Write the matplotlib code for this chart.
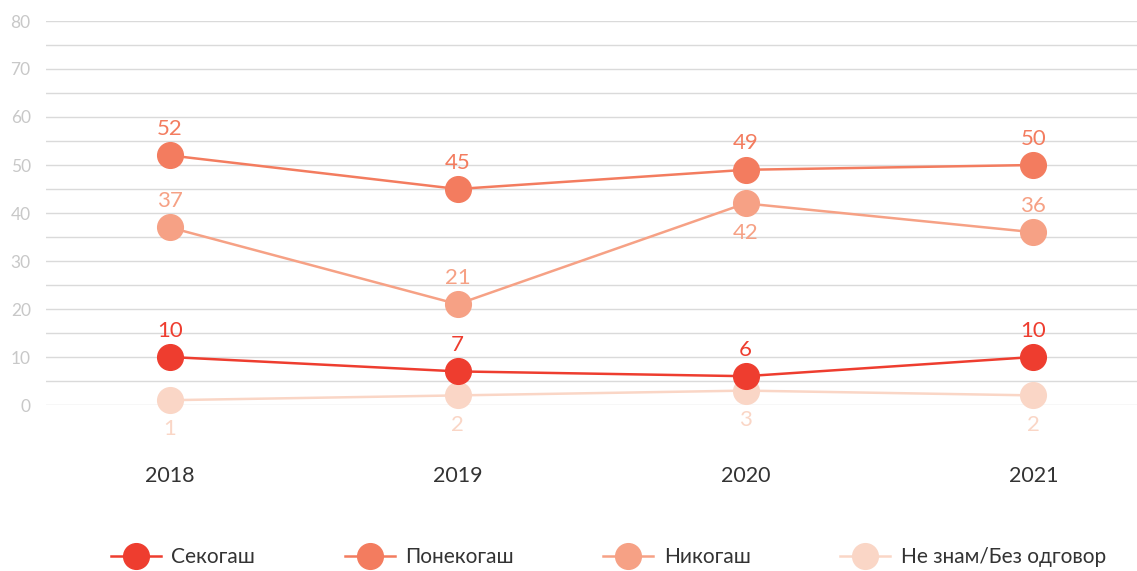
import matplotlib
matplotlib.use("Agg")
from matplotlib import pyplot as plt

years = ["2018", "2019", "2020", "2021"]
sekogash = [10, 7, 6, 10]
ponekogash = [52, 45, 49, 50]
nikogash = [37, 21, 42, 36]
ne_znam = [1, 2, 3, 2]

names = ["Секогаш", "Понекогаш", "Никогаш", "Не знам/Без одговор"]
colors = ["#EE3D2F", "#F37C5F", "#F6A185", "#FAD6C6"]
# -1 = label under the point
label_side = [
    [1, 1, 1, 1],
    [1, 1, 1, 1],
    [1, 1, -1, 1],
    [-1, -1, -1, -1],
]

plt.rcParams['font.family'] = ['Lato', 'DejaVu Sans']

fig = plt.figure(figsize=(11.37, 5.71), dpi=100)
ax = fig.add_axes([46 / 1137, 1 - 405 / 571, 1 - 46 / 1137, 384 / 571])

x = range(len(years))
series = [sekogash, ponekogash, nikogash, ne_znam]
# draw lightest first so red is on top
for i in [3, 2, 1, 0]:
    vals = series[i]
    ax.plot(x, vals, color=colors[i], lw=1.8, marker="o", markersize=18.5,
            label=names[i], clip_on=False, zorder=3 + (3 - i))
    for j, v in enumerate(vals):
        side = label_side[i][j]
        ax.annotate(str(v), (j, v), xytext=(0, 19 if side > 0 else -21),
                    textcoords="offset points", ha="center", va="center",
                    fontsize=16, color=colors[i])

ax.set_xlim(-0.43, 3.36)
ax.set_ylim(0, 80)
ax.set_yticks(range(0, 81, 10))
ax.set_yticks(range(5, 80, 10), minor=True)
ax.grid(axis="y", which="both", color="#DADADA", lw=1)
ax.set_axisbelow(True)
ax.tick_params(axis="y", which="both", length=0, pad=11, labelsize=12.5, labelcolor="#C8C8C8")
ax.set_xticks(list(x))
ax.set_xticklabels(years)
ax.tick_params(axis="x", length=0, pad=44, labelsize=15.5, labelcolor="#333333")
for s in ax.spines.values():
    s.set_visible(False)

handles, labels = ax.get_legend_handles_labels()
order = [3, 2, 1, 0]
fig.legend([handles[k] for k in order], [labels[k] for k in order],
           loc="center", bbox_to_anchor=(0.535, 1 - 557 / 571), ncol=4, frameon=False,
           fontsize=15, handlelength=2.4, columnspacing=4.3, handletextpad=0.5,
           labelcolor="#333333")

plt.savefig("out.png", dpi=100)
